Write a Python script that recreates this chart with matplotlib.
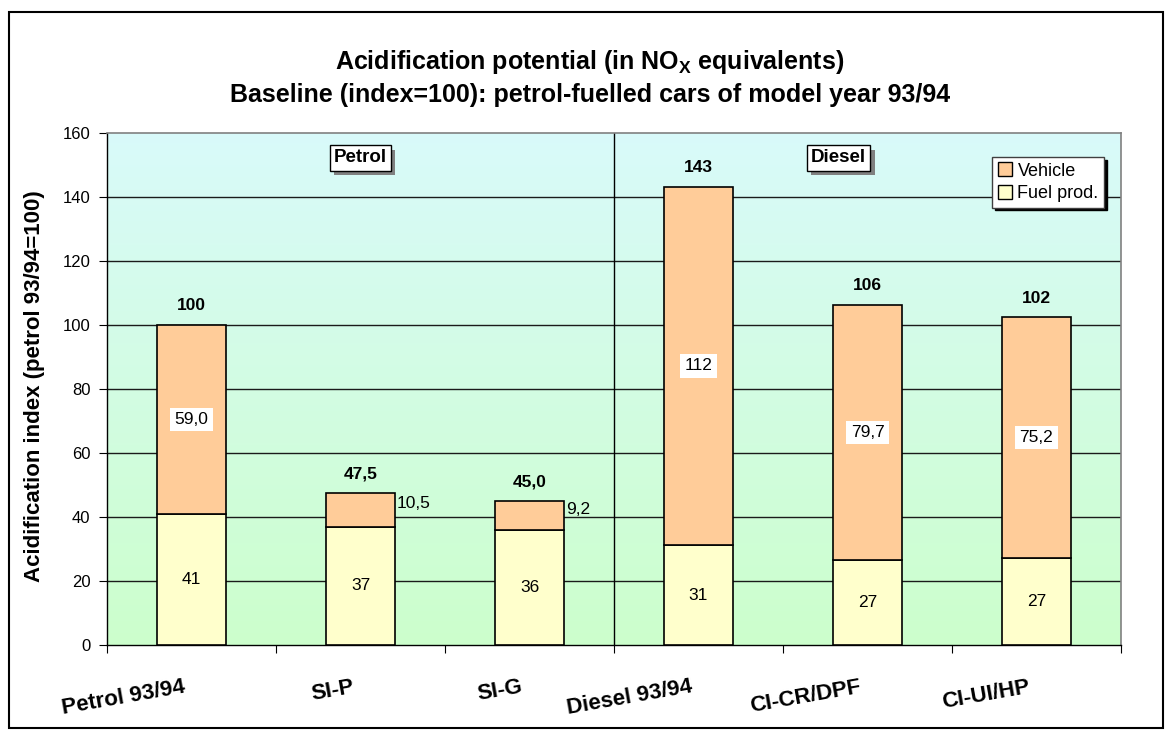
import matplotlib.pyplot as plt
import matplotlib.patches as mpatches
import matplotlib.patheffects as pe
import numpy as np

plt.rcParams['font.family'] = ['Liberation Sans', 'DejaVu Sans']
plt.rcParams['mathtext.fontset'] = 'custom'
plt.rcParams['mathtext.rm'] = 'Liberation Sans:bold'
plt.rcParams['mathtext.default'] = 'rm'

# acidification index per car concept, split by source
categories = ['Petrol 93/94', 'SI-P', 'SI-G', 'Diesel 93/94', 'CI-CR/DPF', 'CI-UI/HP']
fuel_prod = [41.0, 37.0, 35.8, 31.2, 26.6, 27.2]
vehicle = [59.0, 10.5, 9.2, 112.0, 79.7, 75.2]
groups = ['Petrol', 'Diesel']
y_ticks = [0, 20, 40, 60, 80, 100, 120, 140, 160]

col_vehicle = '#FFCC99'
col_fuel = '#FFFFCC'


def fmt(v):
    # three significant figures with a decimal comma
    s = f'{v:.0f}' if v >= 100 else f'{v:.1f}'
    return s.replace('.', ',')


W, H = 1170, 736
fig = plt.figure(figsize=(W / 100, H / 100), dpi=100)
ax = fig.add_axes([107 / W, 1 - 645 / H, 1014 / W, 512 / H])

x = np.arange(len(categories))
ax.set_xlim(-0.5, len(categories) - 0.5)
ax.set_ylim(0, 160)

# cyan-to-green background
top = np.array([0.85, 0.98, 0.98])
bot = np.array([0.80, 1.00, 0.80])
t = np.linspace(0, 1, 256)[:, None, None]
grad = bot + (top - bot) * t
ax.imshow(grad, extent=[-0.5, len(categories) - 0.5, 0, 160], origin='lower',
          aspect='auto', zorder=0)

for y in y_ticks[1:-1]:
    ax.axhline(y, color='#1a1a1a', lw=1, zorder=1)
ax.axvline(2.5, color='black', lw=1, zorder=1)

w = 0.41
ax.bar(x, fuel_prod, width=w, color=col_fuel, edgecolor='black', lw=1.2, zorder=3)
ax.bar(x, vehicle, width=w, bottom=fuel_prod, color=col_vehicle, edgecolor='black',
       lw=1.2, zorder=3)

for i in range(len(categories)):
    f = fuel_prod[i]
    v = vehicle[i]
    ax.text(x[i], f / 2, f'{f:.0f}', ha='center', va='center', fontsize=12.5, zorder=5)
    if v < 15:
        ax.text(x[i] + w / 2 + 0.01, f + v / 2 + 2, fmt(v), ha='left', va='center',
                fontsize=12.5, zorder=5)
    else:
        ax.text(x[i], f + v / 2, fmt(v), ha='center', va='center', fontsize=12.5,
                zorder=5, bbox=dict(fc='white', ec='none', boxstyle='square,pad=0.25'))
    ax.text(x[i], f + v + 6, fmt(f + v), ha='center', va='center', fontsize=12.5,
            fontweight='bold', zorder=5)

# category labels, slanted
for i, c in enumerate(categories):
    ax.text(x[i] - 0.04, -0.082, c, transform=ax.get_xaxis_transform(), rotation=10,
            rotation_mode='anchor', ha='right', va='center', fontsize=16,
            fontweight='bold')

# section boxes with grey drop shadow
for gx, g in zip([1.0, 3.83], groups):
    txt = ax.text(gx, 152.2, g, ha='center', va='center', fontsize=13.5,
                  fontweight='bold', zorder=7,
                  bbox=dict(fc='white', ec='black', lw=1, boxstyle='square,pad=0.22'))
    txt.get_bbox_patch().set_path_effects(
        [pe.SimplePatchShadow(offset=(3, -3), shadow_rgbFace='#808080', alpha=1),
         pe.Normal()])

ax.set_xticks(np.arange(-0.5, len(categories), 1))
ax.set_xticklabels([])
ax.set_yticks(y_ticks)
ax.tick_params(axis='x', length=6, direction='out', color='black')
ax.tick_params(axis='y', length=6, direction='out', labelsize=12, pad=6)
for s in ['left', 'bottom']:
    ax.spines[s].set_color('black')
    ax.spines[s].set_linewidth(1)
for s in ['top', 'right']:
    ax.spines[s].set_color('#808080')
    ax.spines[s].set_linewidth(1.2)

handles = [mpatches.Patch(fc=col_vehicle, ec='black', lw=1),
           mpatches.Patch(fc=col_fuel, ec='black', lw=1)]
leg = ax.legend(handles, ['Vehicle', 'Fuel prod.'], loc='upper right',
                bbox_to_anchor=(1104 / W, 1 - 157 / H), bbox_transform=fig.transFigure,
                fancybox=False, framealpha=1, edgecolor='#404040',
                shadow={'color': 'black', 'alpha': 1}, fontsize=13,
                handlelength=0.8, handleheight=0.8, handletextpad=0.3,
                borderpad=0.3, labelspacing=0.3, borderaxespad=0)
leg.set_zorder(8)

fig.text(590 / W, 1 - 62 / H, r'Acidification potential (in NO$_{X}$ equivalents)',
         ha='center', va='center', fontsize=18, fontweight='bold')
fig.text(590 / W, 1 - 95 / H, 'Baseline (index=100): petrol-fuelled cars of model year 93/94',
         ha='center', va='center', fontsize=18, fontweight='bold')
fig.text(35 / W, 1 - 386 / H, 'Acidification index (petrol 93/94=100)', rotation=90,
         ha='center', va='center', fontsize=16, fontweight='bold')

fig.add_artist(mpatches.Rectangle((9 / W, 1 - 728 / H), 1154 / W, 716 / H,
                                  transform=fig.transFigure, fill=False,
                                  ec='black', lw=1.5))

fig.savefig('out.png', dpi=100)
